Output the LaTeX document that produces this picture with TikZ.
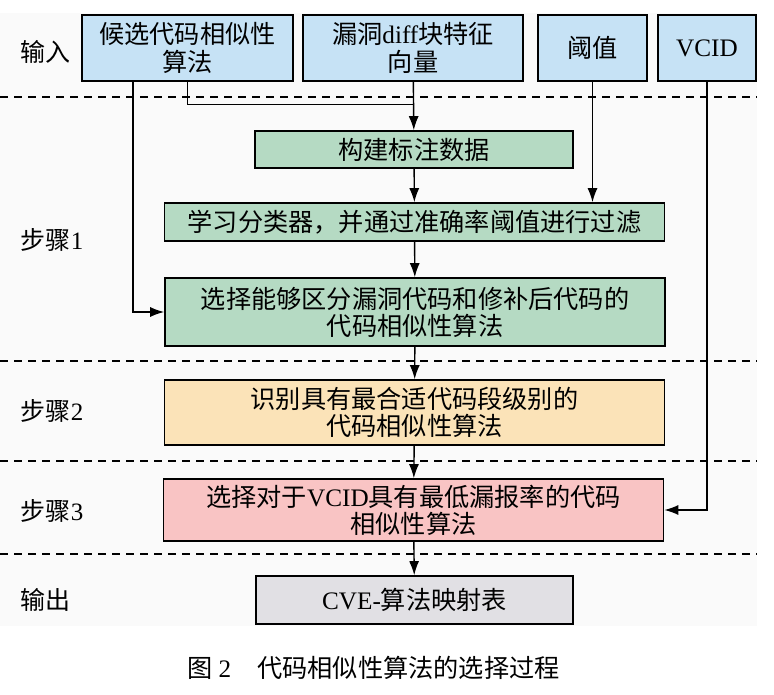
\documentclass[tikz,border=0pt]{standalone}
\usepackage{fontspec}
\setmainfont{Liberation Serif}
\newfontfamily\cjk{Noto Sans CJK SC}
\usepackage{xcolor}
\usetikzlibrary{arrows.meta, positioning, calc}

\definecolor{inblue}{RGB}{198,226,245}
\definecolor{stepgreen}{RGB}{181,218,195}
\definecolor{stepyellow}{RGB}{251,227,184}
\definecolor{steppink}{RGB}{249,196,196}
\definecolor{outgray}{RGB}{225,224,228}
\newcommand{\lat}[1]{{\rmfamily #1}}

\begin{document}
\begin{tikzpicture}[
    x=0.5pt, y=-0.5pt,
    box/.style={rectangle, draw, line width=0.8pt, inner sep=0pt, align=center, font=\cjk\fontsize{12.6}{13.6}\selectfont},
    inbox/.style={box, fill=inblue, minimum height=33pt},
    stagebox/.style={box, minimum width=250pt},
    rowlabel/.style={font=\cjk\fontsize{12.5}{14}\selectfont},
    sep/.style={dash pattern=on 4pt off 3pt, line width=0.6pt},
    link/.style={line width=0.7pt},
    arrow/.style={link,-{Latex[length=7pt,width=5pt]}}
]
    \useasboundingbox (0,0) rectangle (774,694);
    \fill[black!2] (0,13) rectangle (757,626);

    % inputs
    \node [inbox, minimum width=105.5pt] (cand) at (187.5,48) {候选代码相似性\\算法};
    \node [inbox, minimum width=110pt] (diff) at (413,48) {漏洞\lat{diff}块特征\\向量};
    \node [inbox, minimum width=54.5pt] (thr) at (592.5,48) {阈值};
    \node [inbox, minimum width=49pt] (vcid) at (707,48) {\lat{VCID}};

    % steps
    \node [box, fill=stepgreen, minimum width=159pt, minimum height=18.5pt] (build) at (414,149.5) {构建标注数据};
    \node [stagebox, fill=stepgreen, minimum height=19pt] (learn) at (414.5,222) {学习分类器，并通过准确率阈值进行过滤};
    \node [stagebox, fill=stepgreen, minimum height=34pt] (select) at (415,312) {选择能够区分漏洞代码和修补后代码的\\代码相似性算法};
    \node [stagebox, fill=stepyellow, minimum height=32.5pt] (ident) at (414.5,412.5) {识别具有最合适代码段级别的\\代码相似性算法};
    \node [stagebox, fill=steppink, minimum height=31pt] (lowest) at (413.5,510) {选择对于\lat{VCID}具有最低漏报率的代码\\相似性算法};
    \node [box, fill=outgray, minimum width=158.5pt, minimum height=24pt] (table) at (414.5,600) {\lat{CVE-}算法映射表};

    % row labels
    \node [rowlabel] (lin) at (45,52) {输入};
    \node [rowlabel] (ls1) at (52,240) {步骤\lat{1}};
    \node [rowlabel] (ls2) at (52,411) {步骤\lat{2}};
    \node [rowlabel] (ls3) at (52,511) {步骤\lat{3}};
    \node [rowlabel] (lout) at (45,600) {输出};

    % stage separators
    \foreach \y in {97,361,461,554}
        \draw [sep] (0,\y) -- (757,\y);

    % connectors
    \coordinate (tap) at ($(cand.south)+(-54.5,0)$);
    \coordinate (join) at ($(diff.south)+(0,23)$);
    \draw [link] (cand.south) |- (join);
    \draw [arrow] (diff) -- (build);
    \draw [arrow] (tap) |- (select.west);
    \draw [arrow] (build) -- (learn);
    \draw [arrow] (thr.south) -- (thr.south |- learn.north);
    \draw [arrow] (learn) -- (select);
    \draw [arrow] (select) -- (ident);
    \draw [arrow] (ident) -- (lowest);
    \draw [arrow] (vcid.south) |- (lowest.east);
    \draw [arrow] (lowest) -- (table);

    \node [font=\fontsize{12.6}{14}\selectfont] (caption) at (373.5,668) {{\cjk 图}\hspace{3pt}2\hspace{13pt}{\cjk 代码相似性算法的选择过程}};
\end{tikzpicture}
\end{document}
